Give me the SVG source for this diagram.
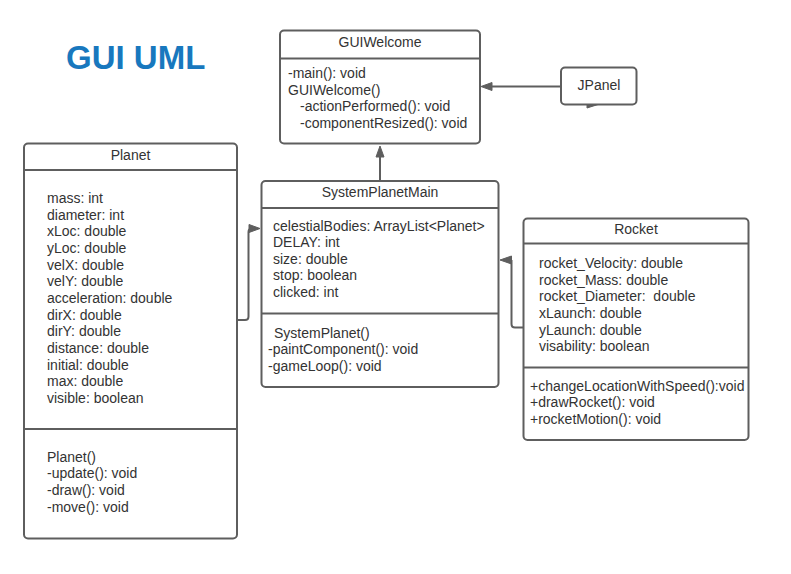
<svg xmlns="http://www.w3.org/2000/svg" width="791" height="574" viewBox="0 0 791 574">
<style>
.box{fill:#ffffff;stroke:#5e5e5e;stroke-width:2}
.sep{stroke:#5e5e5e;stroke-width:2;fill:none}
.t{font-family:"Liberation Sans",Arial,sans-serif;font-size:14px;fill:#333333;white-space:pre}
.c{text-anchor:middle}
.conn{fill:none;stroke:#5e5e5e;stroke-width:2;stroke-linejoin:round}
.ah{fill:#5e5e5e;stroke:#5e5e5e;stroke-width:1}
.title{font-family:"Liberation Sans",Arial,sans-serif;font-size:33px;font-weight:bold;fill:#1878be}
</style>
<rect width="791" height="574" fill="#ffffff"/>
<text class="title" x="66" y="69">GUI UML</text>

<g id="connectors">
<path class="conn" d="M561,86.5 H492"/>
<polygon class="ah" points="481,86.5 492,82.5 492,90.5"/>
<path class="conn" d="M380,181 V157"/>
<polygon class="ah" points="380,146 376,157 384,157"/>
<path class="conn" d="M237,320 H245 Q248.5,320 248.5,316.5 V232 Q248.5,228.5 252,228.5"/>
<polygon class="ah" points="260,228.5 249,224.5 249,232.5"/>
<path class="conn" d="M523,327.5 H515 Q511.5,327.5 511.5,324 V260"/>
<polygon class="ah" points="500,260 511.5,256 511.5,264"/>
<polygon class="ah" points="598,104.5 587,101 587,108"/>
</g>

<g id="GUIWelcome">
<rect class="box" x="280" y="30.5" width="200" height="113" rx="4"/>
<path class="sep" d="M280,58.5 H480"/>
<text class="t c" x="380" y="47">GUIWelcome</text>
<text class="t" x="288" y="78">-main(): void</text>
<text class="t" x="288" y="94.7">GUIWelcome()</text>
<text class="t" x="300" y="111.3">-actionPerformed(): void</text>
<text class="t" x="300" y="128">-componentResized(): void</text>
</g>

<g id="JPanel">
<rect class="box" x="561" y="67.5" width="75.5" height="37" rx="4"/>
<text class="t c" x="599" y="90">JPanel</text>
</g>

<g id="Planet">
<rect class="box" x="24" y="143.5" width="213" height="395" rx="4"/>
<path class="sep" d="M24,170 H237"/>
<path class="sep" d="M24,429 H237"/>
<text class="t c" x="130.5" y="160">Planet</text>
<text class="t" x="47" y="203">mass: int</text>
<text class="t" x="47" y="219.7">diameter: int</text>
<text class="t" x="47" y="236.3">xLoc: double</text>
<text class="t" x="47" y="253">yLoc: double</text>
<text class="t" x="47" y="269.7">velX: double</text>
<text class="t" x="47" y="286.3">velY: double</text>
<text class="t" x="47" y="303">acceleration: double</text>
<text class="t" x="47" y="319.7">dirX: double</text>
<text class="t" x="47" y="336.3">dirY: double</text>
<text class="t" x="47" y="353">distance: double</text>
<text class="t" x="47" y="369.7">initial: double</text>
<text class="t" x="47" y="386.3">max: double</text>
<text class="t" x="47" y="403">visible: boolean</text>
<text class="t" x="47" y="461.7">Planet()</text>
<text class="t" x="47" y="478.3">-update(): void</text>
<text class="t" x="47" y="495">-draw(): void</text>
<text class="t" x="47" y="511.7">-move(): void</text>
</g>

<g id="SystemPlanetMain">
<rect class="box" x="261.5" y="181" width="237" height="206" rx="4"/>
<path class="sep" d="M261.5,208 H498.5"/>
<path class="sep" d="M261.5,313.5 H498.5"/>
<text class="t c" x="380" y="197">SystemPlanetMain</text>
<text class="t" x="273" y="230.5">celestialBodies: ArrayList&lt;Planet&gt;</text>
<text class="t" x="273" y="247">DELAY: int</text>
<text class="t" x="273" y="263.5">size: double</text>
<text class="t" x="273" y="280">stop: boolean</text>
<text class="t" x="273" y="296.5">clicked: int</text>
<text class="t" x="274" y="337.5">SystemPlanet()</text>
<text class="t" x="268" y="354">-paintComponent(): void</text>
<text class="t" x="268" y="370.5">-gameLoop(): void</text>
</g>

<g id="Rocket">
<rect class="box" x="523.5" y="218.5" width="225" height="221.5" rx="4"/>
<path class="sep" d="M523.5,243.5 H748.5"/>
<path class="sep" d="M523.5,367.5 H748.5"/>
<text class="t c" x="636" y="234">Rocket</text>
<text class="t" x="539" y="268">rocket_Velocity: double</text>
<text class="t" x="539" y="284.7">rocket_Mass: double</text>
<text class="t" x="539" y="301.3" xml:space="preserve">rocket_Diameter:  double</text>
<text class="t" x="539" y="318">xLaunch: double</text>
<text class="t" x="539" y="334.7">yLaunch: double</text>
<text class="t" x="539" y="351.3">visability: boolean</text>
<text class="t" x="530" y="390.5">+changeLocationWithSpeed():void</text>
<text class="t" x="530" y="407.2">+drawRocket(): void</text>
<text class="t" x="530" y="423.8">+rocketMotion(): void</text>
</g>
</svg>
